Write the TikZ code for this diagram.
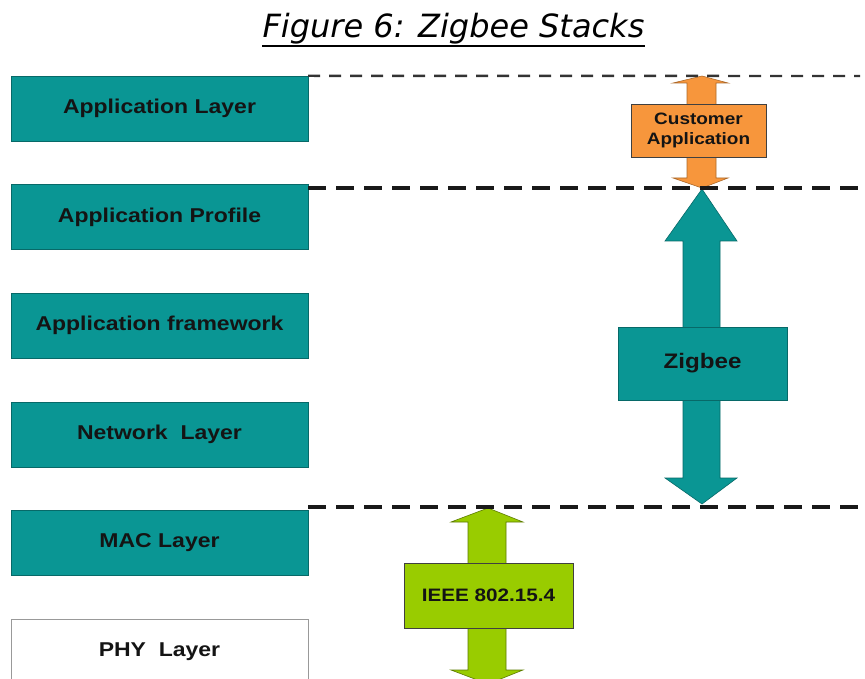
\documentclass[tikz,border=0pt]{standalone}
\usepackage{fontspec}
\usetikzlibrary{shapes,calc,positioning}
\newfontfamily\lyrfont[FakeStretch=1.15]{Liberation Sans}
\newfontfamily\ttlfont{DejaVu Sans}
\definecolor{zteal}{RGB}{10,150,148}
\definecolor{zorange}{RGB}{247,150,60}
\definecolor{zgreen}{RGB}{153,204,0}
\definecolor{ztext}{RGB}{20,20,20}

\begin{document}
\begin{tikzpicture}[x=1pt,y=-1pt,node distance=108.6pt,
  stackbox/.style={draw=zteal!70!black,fill=zteal,minimum width=297pt,minimum height=65pt,inner sep=0pt,text=ztext,font=\lyrfont\fontsize{20}{24}\selectfont\bfseries},
  phybox/.style={stackbox,draw=black!40,fill=white},
  tagbox/.style={draw=black!75,inner sep=0pt,text=ztext,align=center,font=\lyrfont\fontsize{16.5}{20}\selectfont\bfseries},
  bound/.style={dash pattern=on 18pt off 10pt,line width=3.5pt,black!90},
  thinbound/.style={dash pattern=on 12pt off 9pt,line width=2.4pt,black!80}]
\clip (0,0) rectangle (865,679);
\fill[white] (0,0) rectangle (865,679);

% title
\node[inner sep=0pt,anchor=base,font=\ttlfont\itshape\fontsize{32}{38}\selectfont] (title) at (453.5,38) {Figure 6: Zigbee Stacks};
\draw[line width=2pt] ([yshift=-8.5pt]title.base west) -- ([yshift=-8.5pt]title.base east);

% the stack
\node[stackbox] (app) at (159.5,108.5) {Application Layer};
\node[stackbox] (prof) [below of = app] {Application Profile};
\node[stackbox] (frame) [below of = prof] {Application framework};
\node[stackbox] (net) [below of = frame] {Network~~Layer};
\node[stackbox] (mac) [below of = net] {MAC Layer};
\node[phybox] (phy) [below of = mac] {PHY~~Layer};

% block arrows
\draw[fill=zorange,draw=zorange!70!black,line width=0.6pt] (702,76) -- (728,83) -- (716,83) -- (716,178) -- (728,178) -- (702,188) -- (673,178) -- (687,178) -- (687,83) -- (673,83) -- cycle;
\draw[fill=zteal,draw=zteal!70!black,line width=0.6pt] (702,189) -- (737,241) -- (720,241) -- (720,478) -- (737,478) -- (702,504) -- (665,478) -- (683,478) -- (683,241) -- (665,241) -- cycle;
\draw[fill=zgreen,draw=zgreen!60!black,line width=0.6pt] (488,508) -- (523,522) -- (506,522) -- (506,670) -- (523,670) -- (488,684) -- (451,670) -- (468,670) -- (468,522) -- (451,522) -- cycle;

\node[tagbox,fill=zorange,minimum width=135pt,minimum height=53pt] (cust) at (698.5,130.5) {Customer\\Application};
\node[tagbox,fill=zteal,draw=zteal!70!black,minimum width=169pt,minimum height=73pt,font=\lyrfont\fontsize{21}{24}\selectfont\bfseries] (zig) at (702.5,363.5) {Zigbee};
\node[tagbox,fill=zgreen,minimum width=169pt,minimum height=65pt,font=\lyrfont\fontsize{18}{22}\selectfont\bfseries] (ieee) at (488.5,595.5) {IEEE 802.15.4};

% borders between the parts
\coordinate (topend) at (860,76);
\coordinate (midend) at (865,188);
\coordinate (lowend) at (865,507);
\draw[thinbound] (app.north east) -- (topend);
\draw[bound] (app.east |- midend) -- (midend);
\draw[bound] (app.east |- lowend) -- (lowend);

\end{tikzpicture}
\end{document}
